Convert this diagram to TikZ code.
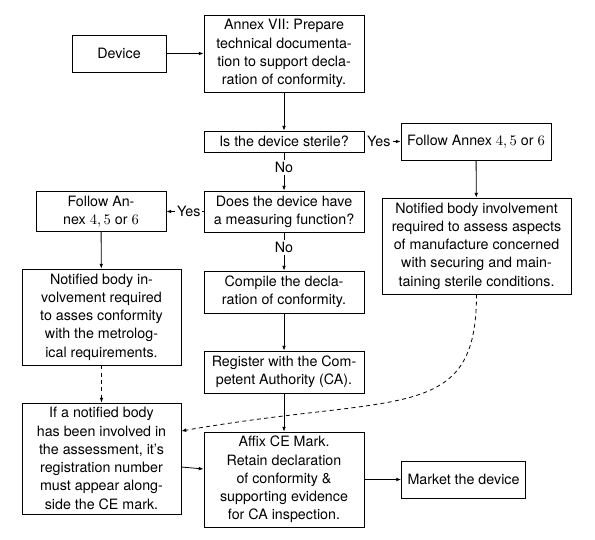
\documentclass[tikz,border=0pt]{standalone}
\usepackage[no-math]{fontspec}
\setmainfont{TeX Gyre Heros}
\usetikzlibrary{arrows.meta,calc}
\begin{document}
\begin{tikzpicture}[x=0.75pt,y=0.75pt,
  box/.style={draw,line width=0.6pt,align=center,inner sep=2pt,
    font=\fontsize{10.7}{13.7}\selectfont},
  arr/.style={line width=0.6pt,-{Latex[length=3.6pt,width=2.8pt]}},
  lbl/.style={fill=white,inner sep=1.5pt,font=\fontsize{10.7}{13.7}\selectfont}]
\useasboundingbox (0,0) rectangle (595,539);
\node[box,minimum width=70.5pt,minimum height=27.75pt] (dev) at (119,485.5) {Device};
\node[box,minimum width=120pt,minimum height=57.75pt] (annex) at (284,485.5)
  {Annex VII: Prepare\\technical documenta-\\tion to support decla-\\ration of conformity.};
\node[box,minimum width=120pt,minimum height=15.75pt] (ster) at (284,397.5) {Is the device sterile?};
\node[box,minimum width=112.5pt,minimum height=27.75pt] (fr) at (476,397.5) {Follow Annex $4,5$ or $6$};
\node[box,minimum width=141.75pt,minimum height=72pt] (nr) at (476.5,293)
  {Notified body involvement\\required to assess aspects\\of manufacture concerned\\with securing and main-\\taining sterile conditions.};
\node[box,minimum width=120pt,minimum height=30.75pt] (meas) at (284,327.5)
  {Does the device have\\a measuring function?};
\node[box,minimum width=97.5pt,minimum height=30pt] (fl) at (101,327.5)
  {Follow An-\\nex $4,5$ or $6$};
\node[box,minimum width=119.25pt,minimum height=72pt] (nl) at (101.5,222)
  {Notified body in-\\volvement required\\to asses conformity\\with the metrolog-\\ical requirements.};
\node[box,minimum width=120pt,minimum height=31.5pt] (comp) at (284,247)
  {Compile the decla-\\ration of conformity.};
\node[box,minimum width=120pt,minimum height=31.5pt] (reg) at (284,167)
  {Register with the Com-\\petent Authority (CA).};
\node[box,minimum width=119.25pt,minimum height=83.25pt] (ifn) at (101.5,80.5)
  {If a notified body\\has been involved in\\the assessment, it's\\registration number\\must appear along-\\side the CE mark.};
\node[box,minimum width=120pt,minimum height=71.25pt] (affix) at (284,59.5)
  {Affix CE Mark.\\Retain declaration\\of conformity \&\\supporting evidence\\for CA inspection.};
\node[box,minimum width=93pt,minimum height=27.75pt] (market) at (463.5,59.5) {Market the device};

\draw[arr] (dev) -- (annex);
\draw[arr] (annex) -- (ster);
\draw[arr] (ster) -- node[lbl,pos=0.4] {Yes} (fr);
\draw[arr] (ster) -- node[lbl,pos=0.4] {No} (meas);
\draw[arr] (meas) -- node[lbl,pos=0.4] {Yes} (fl);
\draw[arr] (meas) -- node[lbl,pos=0.4] {No} (comp);
\draw[arr] (fr) -- (nr);
\draw[arr] (fl) -- (nl);
\draw[arr] (comp) -- (reg);
\draw[arr] (reg) -- (affix);
\draw[arr,dash pattern=on 3pt off 2.5pt] (nl) -- (ifn);
\draw[arr] ($(ifn.east)+(0,-8.5)$) -- ($(affix.west)+(0,10.5)$);
\draw[arr] (affix) -- (market);
\draw[arr,dash pattern=on 3pt off 2.5pt] (nr.south) .. controls +(0,-130) and +(217,38) .. ($(ifn.east)+(0,27.5)$);
\end{tikzpicture}
\end{document}
